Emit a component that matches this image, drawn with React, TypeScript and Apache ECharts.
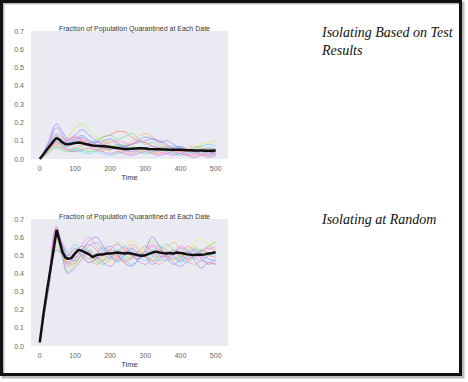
import React, { useEffect, useRef } from "react";
import * as echarts from "echarts";

const TITLE = "Fraction of Population Quarantined at Each Date";
const X_NAME = "Time";
const X_TICKS = [0, 100, 200, 300, 400, 500];
const LABEL_TEST = "Isolating Based on Test\nResults";
const LABEL_RANDOM = "Isolating at Random";

// time points of the individual runs
const RUN_TIMES = [0, 24, 48, 64, 80, 100, 120, 140, 160, 180, 200, 220, 240, 260, 280, 300, 320, 340, 360, 380, 400, 420, 440, 460, 480, 500];
// time points of the mean curves
const MEAN_TIMES = [0, 10, 20, 30, 40, 48, 56, 64, 72, 80, 90, 100, 110, 120, 130, 140, 150, 160, 170, 180, 190, 200, 210, 220, 230, 240, 250, 260, 270, 280, 290, 300, 310, 320, 330, 340, 350, 360, 370, 380, 390, 400, 410, 420, 430, 440, 450, 460, 470, 480, 490, 500];

const RUN_COLORS = ["#ff7a7a", "#ffae5c", "#f2e35a", "#b8f060", "#6fe08a", "#5fe0c0", "#5fd8f0", "#6fb8ff", "#7f8cff", "#a07cff", "#c87cf0", "#f07ce0", "#ff8ac0", "#ff9a9a"];

// Isolating based on test results
const testRuns: number[][] = [
  [0, 0.05, 0.09, 0.08, 0.07, 0.09, 0.1, 0.08, 0.09, 0.12, 0.13, 0.15, 0.15, 0.12, 0.1, 0.09, 0.07, 0.06, 0.05, 0.05, 0.04, 0.05, 0.04, 0.03, 0.04, 0.03],
  [0, 0.06, 0.12, 0.11, 0.1, 0.12, 0.1, 0.08, 0.07, 0.09, 0.1, 0.08, 0.06, 0.09, 0.12, 0.14, 0.12, 0.09, 0.07, 0.06, 0.05, 0.06, 0.07, 0.06, 0.05, 0.06],
  [0, 0.04, 0.08, 0.07, 0.05, 0.04, 0.06, 0.05, 0.04, 0.05, 0.04, 0.03, 0.05, 0.06, 0.05, 0.04, 0.03, 0.04, 0.05, 0.04, 0.03, 0.05, 0.06, 0.08, 0.09, 0.1],
  [0, 0.05, 0.1, 0.09, 0.12, 0.17, 0.19, 0.16, 0.12, 0.1, 0.08, 0.07, 0.08, 0.07, 0.06, 0.05, 0.05, 0.06, 0.05, 0.04, 0.05, 0.04, 0.05, 0.06, 0.05, 0.06],
  [0, 0.03, 0.06, 0.05, 0.04, 0.05, 0.07, 0.09, 0.1, 0.12, 0.13, 0.11, 0.12, 0.14, 0.11, 0.08, 0.09, 0.07, 0.06, 0.05, 0.06, 0.05, 0.04, 0.05, 0.04, 0.05],
  [0, 0.04, 0.07, 0.06, 0.08, 0.06, 0.05, 0.04, 0.05, 0.06, 0.05, 0.07, 0.06, 0.05, 0.04, 0.03, 0.04, 0.05, 0.04, 0.03, 0.02, 0.03, 0.04, 0.03, 0.02, 0.03],
  [0, 0.05, 0.1, 0.08, 0.06, 0.05, 0.04, 0.03, 0.04, 0.03, 0.02, 0.03, 0.04, 0.05, 0.06, 0.05, 0.04, 0.05, 0.06, 0.07, 0.06, 0.05, 0.06, 0.07, 0.08, 0.07],
  [0, 0.06, 0.13, 0.1, 0.09, 0.11, 0.13, 0.1, 0.08, 0.07, 0.06, 0.08, 0.07, 0.06, 0.05, 0.06, 0.07, 0.06, 0.05, 0.04, 0.03, 0.04, 0.03, 0.04, 0.03, 0.04],
  [0, 0.08, 0.17, 0.13, 0.09, 0.1, 0.12, 0.1, 0.09, 0.1, 0.11, 0.09, 0.07, 0.08, 0.1, 0.12, 0.11, 0.1, 0.08, 0.06, 0.07, 0.05, 0.04, 0.05, 0.06, 0.05],
  [0, 0.09, 0.19, 0.15, 0.11, 0.13, 0.16, 0.13, 0.1, 0.08, 0.07, 0.06, 0.07, 0.08, 0.09, 0.1, 0.11, 0.09, 0.1, 0.08, 0.06, 0.05, 0.04, 0.05, 0.04, 0.03],
  [0, 0.05, 0.09, 0.07, 0.05, 0.04, 0.05, 0.06, 0.05, 0.04, 0.03, 0.04, 0.03, 0.02, 0.03, 0.04, 0.03, 0.02, 0.03, 0.02, 0.03, 0.02, 0.01, 0.02, 0.01, 0.02],
  [0, 0.06, 0.11, 0.09, 0.1, 0.12, 0.11, 0.09, 0.07, 0.06, 0.05, 0.06, 0.05, 0.04, 0.05, 0.06, 0.05, 0.04, 0.03, 0.04, 0.03, 0.02, 0.03, 0.02, 0.03, 0.02],
  [0, 0.07, 0.14, 0.12, 0.1, 0.11, 0.1, 0.08, 0.07, 0.08, 0.09, 0.1, 0.09, 0.08, 0.1, 0.09, 0.07, 0.06, 0.07, 0.06, 0.05, 0.04, 0.05, 0.04, 0.05, 0.04],
  [0, 0.04, 0.08, 0.06, 0.05, 0.06, 0.08, 0.07, 0.06, 0.05, 0.06, 0.05, 0.04, 0.03, 0.04, 0.05, 0.04, 0.03, 0.04, 0.05, 0.04, 0.03, 0.02, 0.03, 0.02, 0.03],
];
const testMean = [0, 0.025, 0.05, 0.075, 0.1, 0.115, 0.105, 0.092, 0.082, 0.08, 0.083, 0.087, 0.09, 0.087, 0.082, 0.078, 0.074, 0.072, 0.071, 0.07, 0.068, 0.066, 0.063, 0.06, 0.057, 0.055, 0.055, 0.056, 0.058, 0.059, 0.059, 0.058, 0.055, 0.054, 0.053, 0.053, 0.052, 0.052, 0.051, 0.05, 0.05, 0.05, 0.049, 0.048, 0.048, 0.047, 0.046, 0.046, 0.045, 0.045, 0.045, 0.046];

// Isolating at random
const randomRuns: number[][] = [
  [0.02, 0.33, 0.66, 0.55, 0.46, 0.5, 0.55, 0.52, 0.48, 0.5, 0.53, 0.5, 0.47, 0.49, 0.52, 0.55, 0.52, 0.49, 0.5, 0.53, 0.51, 0.48, 0.5, 0.53, 0.5, 0.49],
  [0.02, 0.32, 0.6, 0.54, 0.5, 0.53, 0.49, 0.46, 0.5, 0.55, 0.52, 0.48, 0.51, 0.56, 0.53, 0.49, 0.47, 0.5, 0.54, 0.57, 0.53, 0.5, 0.48, 0.52, 0.55, 0.53],
  [0.02, 0.31, 0.58, 0.52, 0.47, 0.45, 0.5, 0.56, 0.53, 0.49, 0.46, 0.5, 0.55, 0.58, 0.54, 0.5, 0.52, 0.55, 0.52, 0.48, 0.5, 0.54, 0.57, 0.59, 0.56, 0.58],
  [0.02, 0.3, 0.55, 0.5, 0.43, 0.47, 0.52, 0.5, 0.46, 0.48, 0.53, 0.57, 0.53, 0.49, 0.5, 0.54, 0.58, 0.55, 0.5, 0.47, 0.49, 0.53, 0.55, 0.51, 0.5, 0.54],
  [0.02, 0.32, 0.6, 0.49, 0.41, 0.45, 0.5, 0.53, 0.5, 0.47, 0.5, 0.53, 0.5, 0.48, 0.51, 0.5, 0.47, 0.52, 0.56, 0.53, 0.49, 0.51, 0.54, 0.52, 0.55, 0.57],
  [0.02, 0.33, 0.62, 0.53, 0.48, 0.52, 0.55, 0.5, 0.47, 0.45, 0.48, 0.51, 0.48, 0.45, 0.47, 0.52, 0.5, 0.47, 0.5, 0.52, 0.49, 0.46, 0.5, 0.53, 0.51, 0.5],
  [0.02, 0.31, 0.57, 0.55, 0.52, 0.56, 0.52, 0.48, 0.51, 0.54, 0.5, 0.46, 0.49, 0.53, 0.5, 0.47, 0.51, 0.55, 0.53, 0.49, 0.46, 0.49, 0.52, 0.48, 0.46, 0.48],
  [0.02, 0.34, 0.64, 0.56, 0.49, 0.47, 0.51, 0.55, 0.57, 0.53, 0.49, 0.52, 0.55, 0.51, 0.48, 0.5, 0.53, 0.5, 0.47, 0.5, 0.54, 0.52, 0.49, 0.47, 0.5, 0.52],
  [0.02, 0.3, 0.53, 0.51, 0.5, 0.54, 0.5, 0.46, 0.48, 0.52, 0.55, 0.51, 0.46, 0.44, 0.48, 0.53, 0.6, 0.55, 0.49, 0.45, 0.48, 0.52, 0.47, 0.43, 0.46, 0.45],
  [0.02, 0.33, 0.63, 0.54, 0.45, 0.48, 0.53, 0.58, 0.6, 0.55, 0.5, 0.47, 0.5, 0.54, 0.51, 0.49, 0.45, 0.48, 0.52, 0.5, 0.47, 0.5, 0.53, 0.5, 0.48, 0.47],
  [0.02, 0.35, 0.65, 0.5, 0.4, 0.43, 0.48, 0.52, 0.49, 0.46, 0.44, 0.48, 0.52, 0.5, 0.47, 0.45, 0.49, 0.53, 0.5, 0.46, 0.44, 0.47, 0.51, 0.48, 0.45, 0.46],
  [0.02, 0.34, 0.63, 0.57, 0.51, 0.49, 0.53, 0.56, 0.53, 0.5, 0.53, 0.56, 0.53, 0.5, 0.48, 0.51, 0.55, 0.52, 0.49, 0.51, 0.55, 0.53, 0.5, 0.52, 0.54, 0.51],
  [0.02, 0.32, 0.61, 0.52, 0.46, 0.5, 0.56, 0.6, 0.55, 0.51, 0.48, 0.5, 0.54, 0.52, 0.49, 0.52, 0.56, 0.53, 0.5, 0.48, 0.51, 0.55, 0.52, 0.49, 0.53, 0.55],
  [0.02, 0.31, 0.59, 0.51, 0.44, 0.46, 0.5, 0.48, 0.45, 0.47, 0.51, 0.49, 0.46, 0.48, 0.52, 0.5, 0.47, 0.45, 0.48, 0.51, 0.5, 0.47, 0.45, 0.47, 0.46, 0.45],
];
const randomMean = [0.02, 0.17, 0.3, 0.42, 0.54, 0.64, 0.58, 0.52, 0.49, 0.48, 0.485, 0.51, 0.53, 0.525, 0.515, 0.505, 0.49, 0.5, 0.505, 0.505, 0.51, 0.51, 0.512, 0.515, 0.513, 0.51, 0.512, 0.51, 0.505, 0.5, 0.497, 0.5, 0.508, 0.515, 0.52, 0.515, 0.512, 0.51, 0.512, 0.51, 0.515, 0.512, 0.51, 0.505, 0.503, 0.502, 0.503, 0.503, 0.505, 0.51, 0.513, 0.517];

const SANS = "'Liberation Sans', Arial, sans-serif";

function pairs(xs: number[], ys: number[]) {
  return ys.map((y, i) => [xs[i], y]);
}

export default function App() {
  const ref = useRef<HTMLDivElement>(null);
  useEffect(() => {
    if (!ref.current) return;
    const chart = echarts.init(ref.current, undefined, { renderer: "svg" });
    const grids = [
      { left: 31, top: 31, width: 197, height: 128 },
      { left: 31, top: 219, width: 197, height: 127 },
    ];
    const xAxes = grids.map((_, i) => ({
      type: "value",
      gridIndex: i,
      min: -25,
      max: 535,
      name: X_NAME,
      nameLocation: "middle",
      nameGap: 14,
      nameTextStyle: { fontSize: 7.5, color: "#333", fontFamily: SANS },
      axisLine: { show: false },
      axisTick: { show: false },
      splitLine: { show: false },
      axisLabel: { customValues: X_TICKS, fontSize: 7, color: "#666", margin: 6, fontFamily: SANS },
    }));
    const yAxes = grids.map((_, i) => ({
      type: "value",
      gridIndex: i,
      min: 0,
      max: 0.7,
      interval: 0.1,
      axisLine: { show: false },
      axisTick: { show: false },
      splitLine: { show: false },
      axisLabel: { fontSize: 7, color: "#666", margin: 7, fontFamily: SANS, formatter: (v: number) => v.toFixed(1) },
    }));
    const series: any[] = [];
    [testRuns, randomRuns].forEach((runs, gi) => {
      runs.forEach((r, k) => {
        series.push({
          type: "line",
          xAxisIndex: gi,
          yAxisIndex: gi,
          data: pairs(RUN_TIMES, r),
          smooth: 0.4,
          showSymbol: false,
          lineStyle: { width: 1, color: RUN_COLORS[k % RUN_COLORS.length], opacity: 0.7 },
          z: 2,
        });
      });
    });
    [testMean, randomMean].forEach((m, gi) => {
      series.push({
        type: "line",
        xAxisIndex: gi,
        yAxisIndex: gi,
        data: pairs(MEAN_TIMES, m),
        showSymbol: false,
        lineStyle: { width: 2.5, color: "#111" },
        z: 5,
      });
    });
    chart.setOption({
      animation: false,
      backgroundColor: "#fff",
      title: [
        { text: TITLE, left: 129.5, textAlign: "center", top: 20, textStyle: { fontSize: 7, fontWeight: "normal", color: "#333", fontFamily: SANS } },
        { text: TITLE, left: 129.5, textAlign: "center", top: 208, textStyle: { fontSize: 7, fontWeight: "normal", color: "#333", fontFamily: SANS } },
      ],
      grid: grids.map((g) => ({ ...g, show: true, backgroundColor: "#eaeaf2", borderWidth: 0 })),
      xAxis: xAxes,
      yAxis: yAxes,
      series,
      graphic: [
        { type: "rect", shape: { x: 3, y: 3, width: 460, height: 374 }, style: { fill: "none", stroke: "#bbb", lineWidth: 3 }, z: 10 },
        { type: "rect", shape: { x: 1.5, y: 1.5, width: 459, height: 373 }, style: { fill: "none", stroke: "#111", lineWidth: 3 }, z: 11 },
        { type: "text", x: 322, y: 23, style: { text: LABEL_TEST, font: "italic 14px 'Liberation Serif', serif", lineHeight: 18, fill: "#111" }, z: 12 },
        { type: "text", x: 322, y: 210, style: { text: LABEL_RANDOM, font: "italic 14px 'Liberation Serif', serif", lineHeight: 18, fill: "#111" }, z: 12 },
      ],
    });
    return () => chart.dispose();
  }, []);
  return <div ref={ref} style={{ position: "fixed", left: 0, top: 0, width: 468, height: 382 }} />;
}
